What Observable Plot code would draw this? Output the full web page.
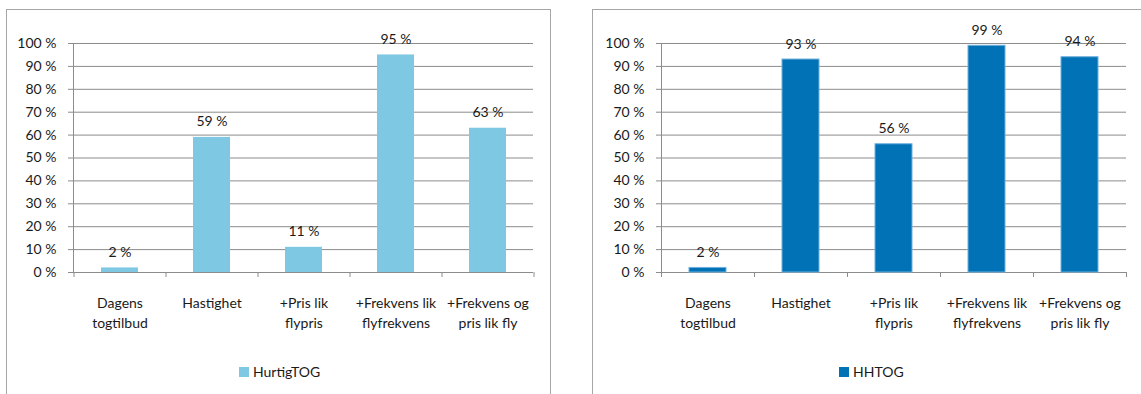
<!DOCTYPE html>
<html><head><meta charset="utf-8">
<script src="https://cdn.jsdelivr.net/npm/d3@7"></script>
<script src="https://cdn.jsdelivr.net/npm/@observablehq/plot@0.6"></script>
<style>
body{margin:0;background:#fff;}
#root{position:relative;width:1141px;height:394px;overflow:hidden;font-family:Lato,sans-serif;}
.panel{position:absolute;border:1px solid #a6a6a6;box-sizing:border-box;}
.chart{position:absolute;top:0;}
.legend{position:absolute;font-size:14px;color:#1a1a1a;line-height:14px;display:flex;align-items:center;white-space:nowrap;}
.sw{width:10px;height:10px;margin-right:4px;display:inline-block;}
</style></head><body>
<div id="root"></div>
<script>
const categories = ["Dagens\ntogtilbud", "Hastighet", "+Pris lik\nflypris", "+Frekvens lik\nflyfrekvens", "+Frekvens og\npris lik fly"];
const hurtigValues = [2, 59, 11, 95, 63];
const hhValues = [2, 93, 56, 99, 94];
const yTicks = [0, 10, 20, 30, 40, 50, 60, 70, 80, 90, 100];
const seriesNames = ["HurtigTOG", "HHTOG"];

const root = document.getElementById("root");
const gridColor = "#8c8c8c";
const textColor = "#1a1a1a";

function chart(values, color, W, mL, mR, barStroke) {
  const data = categories.map((c, i) => ({c, v: values[i]}));
  const step = (W - mL - mR) / categories.length;
  const last = categories[categories.length - 1];
  return Plot.plot({
    width: W, height: 340,
    marginLeft: mL, marginRight: mR, marginTop: 43, marginBottom: 68,
    style: {fontFamily: "Lato, sans-serif", fontSize: "14px", color: textColor, background: "transparent", overflow: "visible"},
    x: {domain: categories, paddingInner: 0.6, paddingOuter: 0.3, label: null, axis: null},
    y: {domain: [0, 100], label: null, axis: null},
    marks: [
      Plot.ruleY(yTicks, {y: d => d, stroke: gridColor}),
      Plot.frame({anchor: "left", stroke: gridColor}),
      Plot.ruleX(categories, {x: d => d, dx: -step / 2, y1: 0, y2: 0, insetBottom: -5, stroke: gridColor}),
      Plot.ruleX([last], {x: d => d, dx: step / 2, y1: 0, y2: 0, insetBottom: -5, stroke: gridColor}),
      Plot.barY(data, {x: "c", y: "v", fill: color, stroke: barStroke, strokeWidth: 1}),
      Plot.text(data, {x: "c", y: "v", text: d => d.v + " %", lineAnchor: "bottom", dy: -11, fill: textColor}),
      Plot.axisY(yTicks, {tickSize: 5, tickPadding: 12, tickFormat: d => d + " %", stroke: gridColor, fill: textColor}),
      Plot.axisX({tickSize: 0, tickPadding: 22, lineHeight: 1.4, fill: textColor})
    ]
  });
}

function addPanel(left, top, width, height) {
  const p = document.createElement("div");
  p.className = "panel";
  Object.assign(p.style, {left: left + "px", top: top + "px", width: width + "px", height: height + "px"});
  root.appendChild(p);
}
function addChart(svg, left) {
  svg.classList.add("chart");
  svg.style.left = left + "px";
  svg.style.position = "absolute";
  root.appendChild(svg);
}
function addLegend(name, color, left, top) {
  const l = document.createElement("div");
  l.className = "legend";
  l.style.left = left + "px";
  l.style.top = top + "px";
  l.innerHTML = `<span class="sw" style="background:${color}"></span><span>${name}</span>`;
  root.appendChild(l);
}

addPanel(6, 9, 545, 420);
addPanel(592, 9, 600, 420);

addChart(chart(hurtigValues, "#7fc8e4", 560, 73, 27, null), 0);
addChart(chart(hhValues, "#0072b5", 553, 73, 15, "#6fb0dc"), 588);

addLegend(seriesNames[0], "#7fc8e4", 239, 365);
addLegend(seriesNames[1], "#0072b5", 839, 365);
</script>
</body></html>
